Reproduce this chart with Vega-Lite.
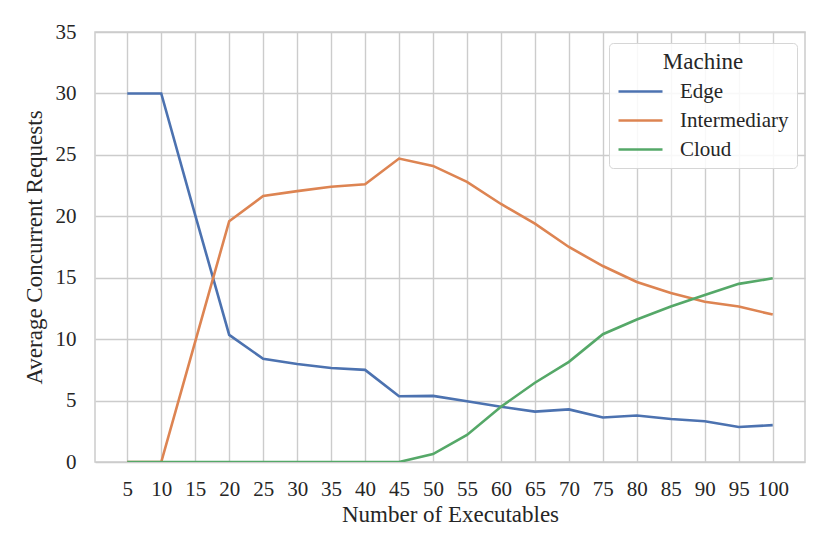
{
  "$schema": "https://vega.github.io/schema/vega-lite/v6.json",
  "width": 710,
  "height": 430,
  "autosize": "none",
  "padding": {"left": 95, "top": 32, "right": 25, "bottom": 92},
  "background": "white",
  "config": {
    "font": "Liberation Serif",
    "view": {"stroke": "#cccccc", "strokeWidth": 1.5},
    "axis": {
      "labelFont": "Liberation Serif",
      "titleFont": "Liberation Serif",
      "labelFontSize": 21,
      "titleFontSize": 23,
      "labelColor": "#262626",
      "titleColor": "#262626",
      "titleFontWeight": "normal",
      "gridColor": "#cccccc",
      "gridWidth": 1.4,
      "ticks": false,
      "domain": false
    },
    "legend": {
      "labelFont": "Liberation Serif",
      "titleFont": "Liberation Serif",
      "labelFontSize": 21,
      "titleFontSize": 23,
      "titleFontWeight": "normal",
      "labelColor": "#262626",
      "titleColor": "#262626"
    }
  },
  "data": {
    "values": [
      {"executables": 5, "machine": "Edge", "requests": 30.0},
      {"executables": 10, "machine": "Edge", "requests": 30.0},
      {"executables": 15, "machine": "Edge", "requests": 20.1},
      {"executables": 20, "machine": "Edge", "requests": 10.35},
      {"executables": 25, "machine": "Edge", "requests": 8.4},
      {"executables": 30, "machine": "Edge", "requests": 7.98},
      {"executables": 35, "machine": "Edge", "requests": 7.65},
      {"executables": 40, "machine": "Edge", "requests": 7.5},
      {"executables": 45, "machine": "Edge", "requests": 5.35},
      {"executables": 50, "machine": "Edge", "requests": 5.38},
      {"executables": 55, "machine": "Edge", "requests": 4.95},
      {"executables": 60, "machine": "Edge", "requests": 4.5},
      {"executables": 65, "machine": "Edge", "requests": 4.1},
      {"executables": 70, "machine": "Edge", "requests": 4.28},
      {"executables": 75, "machine": "Edge", "requests": 3.62},
      {"executables": 80, "machine": "Edge", "requests": 3.78},
      {"executables": 85, "machine": "Edge", "requests": 3.5},
      {"executables": 90, "machine": "Edge", "requests": 3.32},
      {"executables": 95, "machine": "Edge", "requests": 2.85},
      {"executables": 100, "machine": "Edge", "requests": 3.0},
      {"executables": 5, "machine": "Intermediary", "requests": 0},
      {"executables": 10, "machine": "Intermediary", "requests": 0},
      {"executables": 15, "machine": "Intermediary", "requests": 9.8},
      {"executables": 20, "machine": "Intermediary", "requests": 19.6},
      {"executables": 25, "machine": "Intermediary", "requests": 21.65},
      {"executables": 30, "machine": "Intermediary", "requests": 22.05},
      {"executables": 35, "machine": "Intermediary", "requests": 22.4},
      {"executables": 40, "machine": "Intermediary", "requests": 22.6},
      {"executables": 45, "machine": "Intermediary", "requests": 24.7},
      {"executables": 50, "machine": "Intermediary", "requests": 24.1},
      {"executables": 55, "machine": "Intermediary", "requests": 22.8},
      {"executables": 60, "machine": "Intermediary", "requests": 21.0},
      {"executables": 65, "machine": "Intermediary", "requests": 19.4},
      {"executables": 70, "machine": "Intermediary", "requests": 17.5},
      {"executables": 75, "machine": "Intermediary", "requests": 15.95},
      {"executables": 80, "machine": "Intermediary", "requests": 14.65},
      {"executables": 85, "machine": "Intermediary", "requests": 13.75},
      {"executables": 90, "machine": "Intermediary", "requests": 13.05},
      {"executables": 95, "machine": "Intermediary", "requests": 12.65},
      {"executables": 100, "machine": "Intermediary", "requests": 12.0},
      {"executables": 5, "machine": "Cloud", "requests": 0},
      {"executables": 10, "machine": "Cloud", "requests": 0},
      {"executables": 15, "machine": "Cloud", "requests": 0},
      {"executables": 20, "machine": "Cloud", "requests": 0},
      {"executables": 25, "machine": "Cloud", "requests": 0},
      {"executables": 30, "machine": "Cloud", "requests": 0},
      {"executables": 35, "machine": "Cloud", "requests": 0},
      {"executables": 40, "machine": "Cloud", "requests": 0},
      {"executables": 45, "machine": "Cloud", "requests": 0},
      {"executables": 50, "machine": "Cloud", "requests": 0.65},
      {"executables": 55, "machine": "Cloud", "requests": 2.2},
      {"executables": 60, "machine": "Cloud", "requests": 4.5},
      {"executables": 65, "machine": "Cloud", "requests": 6.45},
      {"executables": 70, "machine": "Cloud", "requests": 8.15},
      {"executables": 75, "machine": "Cloud", "requests": 10.4},
      {"executables": 80, "machine": "Cloud", "requests": 11.6},
      {"executables": 85, "machine": "Cloud", "requests": 12.65},
      {"executables": 90, "machine": "Cloud", "requests": 13.6},
      {"executables": 95, "machine": "Cloud", "requests": 14.5},
      {"executables": 100, "machine": "Cloud", "requests": 14.95}
    ]
  },
  "mark": {"type": "line", "strokeWidth": 2.6, "clip": true},
  "encoding": {
    "x": {
      "field": "executables",
      "type": "quantitative",
      "title": "Number of Executables",
      "scale": {"domain": [0.25, 104.75], "nice": false, "zero": false},
      "axis": {
        "values": [5, 10, 15, 20, 25, 30, 35, 40, 45, 50, 55, 60, 65, 70, 75, 80, 85, 90, 95, 100],
        "labelPadding": 16,
        "titlePadding": 4
      }
    },
    "y": {
      "field": "requests",
      "type": "quantitative",
      "title": "Average Concurrent Requests",
      "scale": {"domain": [0, 35], "nice": false},
      "axis": {
        "values": [0, 5, 10, 15, 20, 25, 30, 35],
        "labelPadding": 19,
        "titlePadding": 9
      }
    },
    "color": {
      "field": "machine",
      "type": "nominal",
      "scale": {
        "domain": ["Edge", "Intermediary", "Cloud"],
        "range": ["#4C72B0", "#DD8452", "#55A868"]
      },
      "legend": {
        "title": "Machine",
        "orient": "none",
        "legendX": 514,
        "legendY": 11,
        "titleAnchor": "middle",
        "symbolType": "M-1,0H3",
        "symbolSize": 484,
        "symbolStrokeWidth": 2.6,
        "labelOffset": 38,
        "rowPadding": 6,
        "padding": 8,
        "titlePadding": 5,
        "strokeColor": "#d6d6d6",
        "fillColor": "rgba(255,255,255,0.85)",
        "cornerRadius": 4
      }
    }
  }
}
